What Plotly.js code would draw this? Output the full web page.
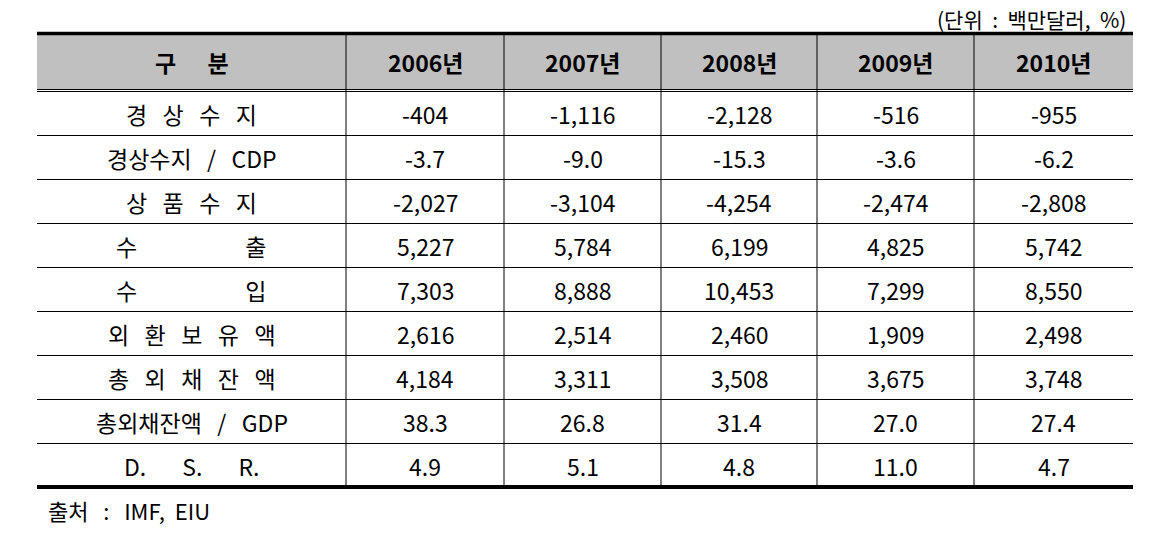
<!DOCTYPE html>
<html><head><meta charset="utf-8">
<script src="https://cdn.plot.ly/plotly-3.0.1.min.js"></script>
<style>html,body{margin:0;padding:0;background:#fff}</style>
</head><body><div id="chart" style="width:1162px;height:537px"></div>
<script>
// ---- data ----
const headerLabel = "구      분";
const years = ["2006년", "2007년", "2008년", "2009년", "2010년"];
const rowLabels = [
  "경   상   수   지",
  "경상수지   /   CDP",
  "상   품   수   지",
  "수                     출",
  "수                     입",
  "외   환   보   유   액",
  "총   외   채   잔   액",
  "총외채잔액   /   GDP",
  "D.       S.       R."
];
const v2006 = ["-404", "-3.7", "-2,027", "5,227", "7,303", "2,616", "4,184", "38.3", "4.9"];
const v2007 = ["-1,116", "-9.0", "-3,104", "5,784", "8,888", "2,514", "3,311", "26.8", "5.1"];
const v2008 = ["-2,128", "-15.3", "-4,254", "6,199", "10,453", "2,460", "3,508", "31.4", "4.8"];
const v2009 = ["-516", "-3.6", "-2,474", "4,825", "7,299", "1,909", "3,675", "27.0", "11.0"];
const v2010 = ["-955", "-6.2", "-2,808", "5,742", "8,550", "2,498", "3,748", "27.4", "4.7"];
const unitNote = "(단위  :  백만달러,  %)";
const sourceNote = "출처   :   IMF,  EIU";

// ---- layout ----
const FONT = "'Noto Sans CJK KR', 'Malgun Gothic', sans-serif";
const FS = 23;
const colEdges = [37, 346, 504, 661, 817, 974, 1133];
const headTop = 35, headBot = 89.5, rowStart = 91.5, rowH = 44;
const nbsp = s => s.replace(/ /g, "\u00A0");
const columns = [v2006, v2007, v2008, v2009, v2010];

const shapes = [];
const ann = [];
const L = colEdges[0], R = colEdges[colEdges.length - 1];
const nRows = rowLabels.length;
const tableBottom = rowStart + nRows * rowH;

// header background
shapes.push({type: "rect", xref: "x", yref: "y", x0: L, x1: R, y0: headTop, y1: headBot,
  fillcolor: "#C0C0C0", line: {width: 0}, layer: "below"});
// top thick border
shapes.push({type: "line", xref: "x", yref: "y", x0: L, x1: R, y0: 33.5, y1: 33.5, line: {color: "#000", width: 3.5}});
// double line under header
shapes.push({type: "line", xref: "x", yref: "y", x0: L, x1: R, y0: headBot, y1: headBot, line: {color: "#000", width: 1}});
shapes.push({type: "line", xref: "x", yref: "y", x0: L, x1: R, y0: rowStart, y1: rowStart, line: {color: "#000", width: 1}});
// row separators
for (let i = 1; i < nRows; i++) {
  const y = rowStart + i * rowH;
  shapes.push({type: "line", xref: "x", yref: "y", x0: L, x1: R, y0: y, y1: y, line: {color: "#000", width: 1}});
}
// bottom thick border
shapes.push({type: "line", xref: "x", yref: "y", x0: L, x1: R, y0: tableBottom - 0.5, y1: tableBottom - 0.5, line: {color: "#000", width: 4}});
// vertical lines
for (let c = 1; c < colEdges.length - 1; c++) {
  shapes.push({type: "line", xref: "x", yref: "y", x0: colEdges[c], x1: colEdges[c], y0: headTop, y1: tableBottom - 2, line: {color: "#000", width: 1}});
}

const cx = c => (colEdges[c] + colEdges[c + 1]) / 2;
// header
ann.push({x: cx(0), y: (headTop + headBot) / 2, text: "<b>" + nbsp(headerLabel) + "</b>"});
years.forEach((yr, j) => ann.push({x: cx(j + 1), y: (headTop + headBot) / 2, text: "<b>" + yr + "</b>"}));
// body
rowLabels.forEach((lab, i) => {
  const y = rowStart + i * rowH + rowH / 2;
  ann.push({x: cx(0), y: y, text: nbsp(lab)});
  columns.forEach((col, j) => ann.push({x: cx(j + 1), y: y, text: col[i]}));
});
const annotations = ann.map(a => Object.assign({xref: "x", yref: "y", showarrow: false,
  xanchor: "center", yanchor: "middle", font: {family: FONT, size: FS, color: "#000"}}, a));
annotations.push({xref: "x", yref: "y", x: 1128, y: 19, text: nbsp(unitNote), showarrow: false,
  xanchor: "right", yanchor: "middle", font: {family: FONT, size: 21, color: "#000"}});
annotations.push({xref: "x", yref: "y", x: 46, y: 510, text: nbsp(sourceNote), showarrow: false,
  xanchor: "left", yanchor: "middle", font: {family: FONT, size: 22, color: "#000"}});

Plotly.newPlot("chart", [], {
  width: 1162, height: 537,
  margin: {l: 0, r: 0, t: 0, b: 0, pad: 0},
  paper_bgcolor: "#fff", plot_bgcolor: "#fff",
  xaxis: {range: [0, 1162], visible: false, fixedrange: true},
  yaxis: {range: [537, 0], visible: false, fixedrange: true},
  shapes: shapes,
  annotations: annotations,
  showlegend: false
}, {staticPlot: true, displayModeBar: false});
</script></body></html>
